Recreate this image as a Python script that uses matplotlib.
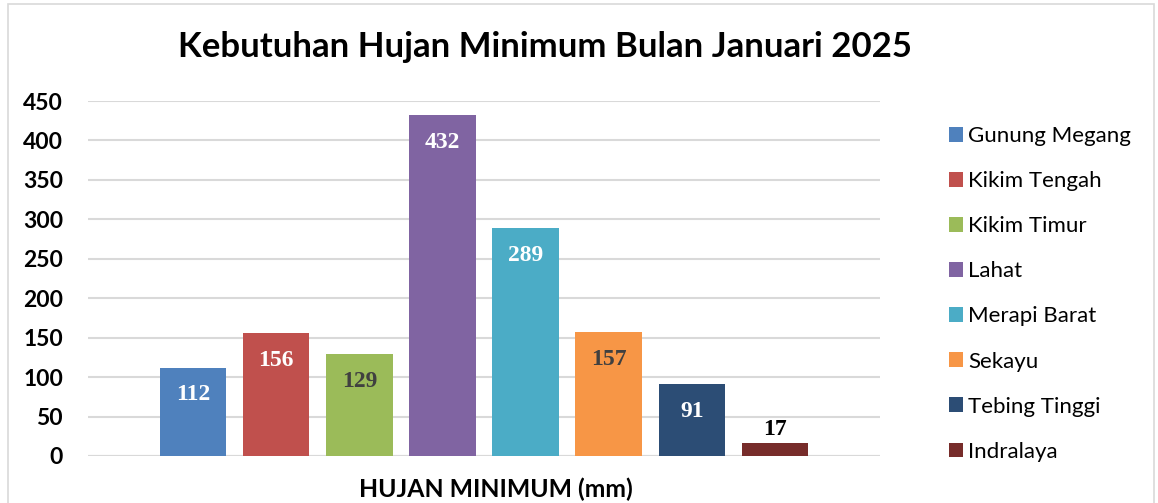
"""Kebutuhan hujan minimum per wilayah, Januari 2025 - bar chart."""
import matplotlib

matplotlib.use("Agg")
import matplotlib.pyplot as plt  # noqa: E402
from matplotlib.patches import Rectangle  # noqa: E402

STATIONS = ["Gunung Megang", "Kikim Tengah", "Kikim Timur", "Lahat",
            "Merapi Barat", "Sekayu", "Tebing Tinggi", "Indralaya"]
HUJAN_MIN = [112, 156, 129, 432, 289, 157, 91, 17]
COLORS = ["#4F81BD", "#C0504D", "#9BBB59", "#8064A2",
          "#4BACC6", "#F79646", "#2C4D75", "#772C2A"]
LABEL_COLORS = ["white", "white", "#404040", "white",
                "white", "#404040", "white", "black"]
YTICKS = [0, 50, 100, 150, 200, 250, 300, 350, 400, 450]

SANS = ["Lato", "DejaVu Sans"]
W, H = 1158, 503

fig = plt.figure(figsize=(W / 100, H / 100), dpi=100)
ax = fig.add_axes([88 / W, 1 - 456 / H, (880 - 88) / W, (456 - 101) / H])

x = list(range(len(STATIONS)))
bars = ax.bar(x, HUJAN_MIN, width=0.8, color=COLORS, label=STATIONS, zorder=3)

for b, v, c in zip(bars, HUJAN_MIN, LABEL_COLORS):
    cx = b.get_x() + b.get_width() / 2
    if v > 60:
        off, va = -19.5, "center"
    else:
        off, va = 2, "bottom"
    ax.annotate(str(v), (cx, v), xytext=(0, off), textcoords="offset points",
                ha="center", va=va, color=c, fontsize=17, fontweight="bold",
                family="Liberation Serif", zorder=4)

ax.set_xlim(-1.265, len(STATIONS) - 1 + 1.265)
ax.set_ylim(0, 450)
ax.set_yticks(YTICKS)
ax.set_xticks([])
ax.yaxis.grid(True, color="#D9D9D9", linewidth=1.5, zorder=0)
ax.tick_params(axis="y", length=0, pad=18)
for lbl in ax.get_yticklabels():
    lbl.set_family(SANS)
    lbl.set_fontweight("bold")
    lbl.set_fontsize(16.5)
for s in ax.spines.values():
    s.set_visible(False)
ax.axhline(0, color="#D9D9D9", linewidth=1.5, zorder=2)

fig.text(545 / W, 1 - 47 / H, "Kebutuhan Hujan Minimum Bulan Januari 2025",
         ha="center", va="center", fontsize=25, fontweight="bold", family=SANS)
fig.text(496 / W, 1 - 489 / H, "HUJAN MINIMUM (mm)", ha="center",
         va="center", fontsize=17.8, fontweight="bold", family=SANS)

leg = fig.legend(handles=bars, labels=STATIONS, loc="upper left",
                 bbox_to_anchor=(929 / W, 1 - 106 / H), frameon=False,
                 prop={"family": SANS, "size": 16}, handlelength=0.65,
                 handleheight=0.65, handletextpad=0.2, labelspacing=1.13)

fig.add_artist(Rectangle((8 / W, -0.1), (1154 - 8) / W, 1.1 - 4 / H,
                         transform=fig.transFigure, fill=False,
                         edgecolor="#D9D9D9", linewidth=1.2))

fig.savefig("out.png", dpi=100)
